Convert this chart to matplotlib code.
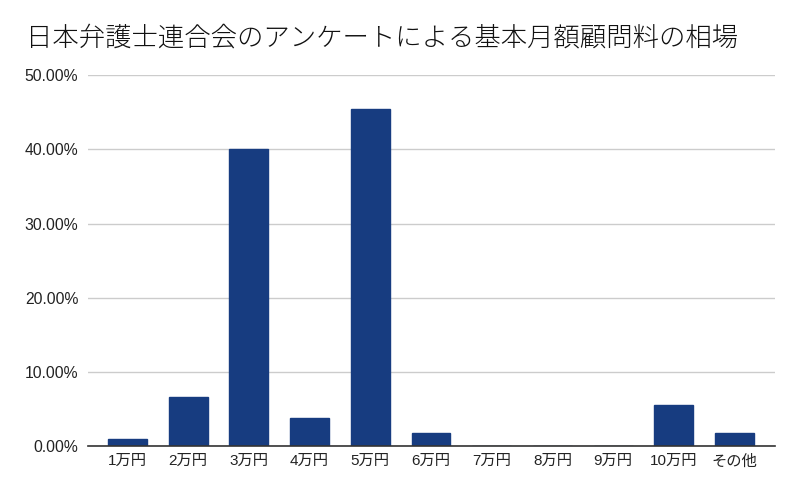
import matplotlib
matplotlib.use("Agg")
import matplotlib.pyplot as plt
from matplotlib.ticker import FuncFormatter

categories = ["1万円", "2万円", "3万円", "4万円", "5万円", "6万円", "7万円", "8万円", "9万円", "10万円", "その他"]
values = [0.9, 6.6, 40.0, 3.8, 45.5, 1.8, 0.0, 0.0, 0.0, 5.5, 1.8]
yticks = [0, 10, 20, 30, 40, 50]
title = "日本弁護士連合会のアンケートによる基本月額顧問料の相場"

plt.rcParams['font.family'] = ['Liberation Sans', 'Noto Sans CJK JP', 'DejaVu Sans']

fig = plt.figure(figsize=(8, 4.95), dpi=100)
ax = fig.add_axes([0.11, 0.099, 0.859, 0.749])

x = list(range(len(categories)))
ax.bar(x, values, width=0.64, color="#173c80", edgecolor="#173c80", zorder=3)

ax.set_xlim(-0.65, len(categories) - 1 + 0.67)
ax.set_ylim(0, 50)
ax.set_yticks(yticks)
ax.yaxis.set_major_formatter(FuncFormatter(lambda v, p: f"{v:.2f}%"))
ax.set_xticks(x)
ax.set_xticklabels(categories)
ax.grid(axis='y', color="#cccccc", linewidth=1, zorder=0)
for s in ["top", "right", "left"]:
    ax.spines[s].set_visible(False)
ax.spines["bottom"].set_color("#333333")
ax.spines["bottom"].set_linewidth(1.2)
ax.spines["bottom"].set_zorder(4)
ax.tick_params(axis='both', length=0, colors="#222222")
ax.tick_params(axis='y', labelsize=11.3, pad=7)
ax.tick_params(axis='x', labelsize=11, pad=6)

fig.text(0.033, 0.925, title, fontsize=19, color="#111111", ha="left", va="center",
         family=['Noto Sans CJK JP', 'DejaVu Sans'], fontweight='light')

fig.savefig("out.png", dpi=100)
